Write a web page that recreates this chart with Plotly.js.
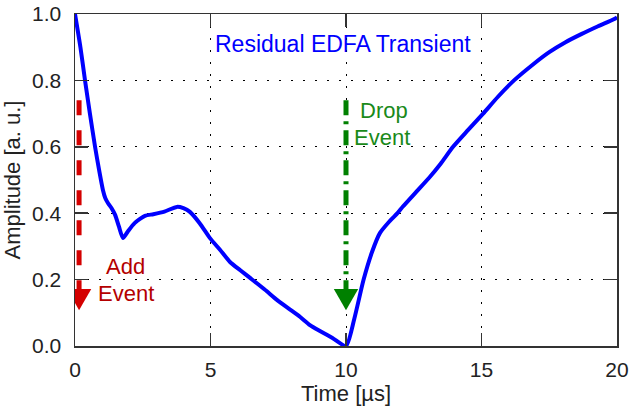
<!DOCTYPE html>
<html>
<head>
<meta charset="utf-8">
<script src="https://cdn.plot.ly/plotly-3.0.1.min.js"></script>
<style>html,body{margin:0;padding:0;background:#fff;}#chart{width:631px;height:409px;}</style>
</head>
<body>
<div id="chart"></div>
<script>
// Residual EDFA transient (time in microseconds, amplitude in a.u.)
const timeUs = [0, 0.2, 0.37, 0.55, 0.74, 0.9, 1.03, 1.12, 1.22, 1.35, 1.48, 1.62, 1.77, 1.95, 2.2, 2.58, 2.89, 3.3, 3.76, 4.0, 4.24, 4.6, 4.98, 5.35, 5.72, 6.1, 6.46, 7.0, 7.45, 7.9, 8.3, 8.67, 9.04, 9.5, 10.0, 10.3, 10.65, 10.96, 11.25, 11.6, 11.9, 12.1, 12.6, 13.1, 13.5, 13.95, 14.5, 15.06, 15.6, 16.2, 16.9, 17.5, 18.1, 18.7, 19.3, 19.9, 20];
const amplitude = [1.0, 0.9, 0.8, 0.7, 0.6, 0.525, 0.47, 0.445, 0.43, 0.415, 0.395, 0.36, 0.325, 0.345, 0.37, 0.392, 0.397, 0.405, 0.419, 0.415, 0.404, 0.37, 0.325, 0.29, 0.253, 0.228, 0.205, 0.17, 0.139, 0.112, 0.088, 0.063, 0.045, 0.024, 0.0, 0.08, 0.2, 0.283, 0.34, 0.375, 0.40, 0.42, 0.465, 0.51, 0.55, 0.60, 0.65, 0.70, 0.75, 0.80, 0.848, 0.885, 0.915, 0.94, 0.963, 0.985, 0.99];

// Event arrows
const eventTimes = [0.15, 10.0];
const eventTop = [0.74, 0.74];
const eventTip = [0.108, 0.108];
const eventColors = ['#d40000', '#008000'];
const eventTextColors = ['#b40000', '#1a8a1a'];
const eventDash = ['15px,15px', '15px,6px,3px,6px'];
const eventLine1 = ['Add', 'Drop'];
const eventLine2 = ['Event', 'Event'];
const eventLabelX = [[1.88, 1.88], [11.4, 11.33]];
const eventLabelSplitY = [0.2, 0.669];

const xTicks = [0, 5, 10, 15, 20];
const yTicks = [0, 0.2, 0.4, 0.6, 0.8, 1.0];
const chartTitle = 'Residual EDFA Transient';

const headHalfW = 0.45;  // in x data units
const headH = 0.064;     // in y data units
const FONT = 'Liberation Sans, Arial, sans-serif';

const shapes = [];
const annotations = [];
eventTimes.forEach((t, i) => {
  const base = eventTip[i] + headH;
  shapes.push({type: 'line', xref: 'x', yref: 'y', x0: t, x1: t, y0: eventTop[i], y1: base,
    line: {color: eventColors[i], width: 5, dash: eventDash[i]}});
  shapes.push({type: 'path', xref: 'x', yref: 'y',
    path: `M ${t - headHalfW},${base} L ${t + headHalfW},${base} L ${t},${eventTip[i]} Z`,
    fillcolor: eventColors[i], line: {width: 0}});
  annotations.push({x: eventLabelX[i][0], y: eventLabelSplitY[i], xref: 'x', yref: 'y', text: eventLine1[i],
    showarrow: false, xanchor: 'center', yanchor: 'bottom', borderpad: 0,
    font: {family: FONT, size: 22, color: eventTextColors[i]}});
  annotations.push({x: eventLabelX[i][1], y: eventLabelSplitY[i], xref: 'x', yref: 'y', text: eventLine2[i],
    showarrow: false, xanchor: 'center', yanchor: 'top', borderpad: 0,
    font: {family: FONT, size: 22, color: eventTextColors[i]}});
});
annotations.push({x: 9.9, y: 0.91, xref: 'x', yref: 'y', text: chartTitle, showarrow: false,
  xanchor: 'center', yanchor: 'middle',
  font: {family: FONT, size: 23, color: '#0000ff'}});

const trace = {x: timeUs, y: amplitude, type: 'scatter', mode: 'lines',
  line: {color: '#0000ff', width: 4, shape: 'spline', smoothing: 0.6}, hoverinfo: 'skip'};

const axisCommon = {
  showline: true, mirror: 'ticks', linecolor: '#333333', linewidth: 1.5,
  ticks: 'inside', ticklen: 13, tickwidth: 1.5, tickcolor: '#333333',
  showgrid: true, gridcolor: '#000000', gridwidth: 1, griddash: '2px,10px',
  zeroline: false, tickfont: {family: FONT, size: 21, color: '#222222'}
};

const layout = {
  width: 631, height: 409,
  margin: {l: 75, r: 14, t: 14, b: 63},
  paper_bgcolor: '#ffffff', plot_bgcolor: '#ffffff',
  showlegend: false,
  xaxis: Object.assign({}, axisCommon, {range: [0, 20], tickvals: xTicks, ticktext: xTicks.map(String),
    ticklabelstandoff: 4,
    title: {text: 'Time [µs]', standoff: 3, font: {family: FONT, size: 22, color: '#222222'}}}),
  yaxis: Object.assign({}, axisCommon, {range: [0, 1], tickvals: yTicks, ticktext: yTicks.map(v => v.toFixed(1)),
    ticklabelstandoff: 8,
    title: {text: 'Amplitude [a. u.]', standoff: 5, font: {family: FONT, size: 22, color: '#222222'}}}),
  shapes: shapes,
  annotations: annotations
};

Plotly.newPlot('chart', [trace], layout, {displayModeBar: false, staticPlot: true});
</script>
</body>
</html>
